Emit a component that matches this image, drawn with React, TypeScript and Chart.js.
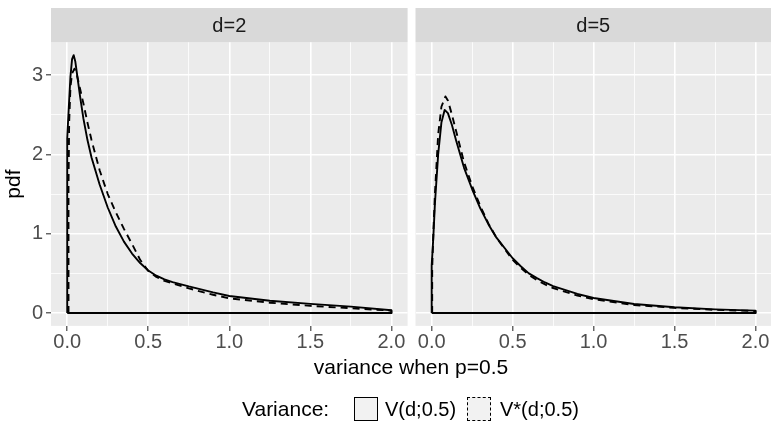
import React, { useEffect, useRef } from 'react';
import { Chart, registerables } from 'chart.js';

Chart.register(...registerables);

const FONT = '"Liberation Sans", Arial, Helvetica, sans-serif';

const panelLabels = ['d=2', 'd=5'];
const seriesNames = ['V(d;0.5)', 'V*(d;0.5)'];
const legendTitle = 'Variance:';
const xAxisTitle = 'variance when p=0.5';
const yAxisTitle = 'pdf';

const xTickValues = [0, 0.25, 0.5, 0.75, 1, 1.25, 1.5, 1.75, 2];
const xTickLabels = ['0.0', '', '0.5', '', '1.0', '', '1.5', '', '2.0'];
const yTickValues = [0, 0.5, 1, 1.5, 2, 2.5, 3];
const yTickLabels = ['0', '', '1', '', '2', '', '3'];

// d=2, V(d;0.5) (solid) — density outline (closed polygon)
const d2V_x = [0, 0, 0.01, 0.02, 0.03, 0.04, 0.05, 0.06, 0.08, 0.1, 0.125, 0.15, 0.2, 0.25, 0.3, 0.35, 0.4, 0.45, 0.5, 0.55, 0.6, 0.65, 0.75, 0.9, 1.0, 1.25, 1.5, 1.75, 2.0, 2.0, 0];
const d2V_y = [0, 2.2, 2.6, 2.98, 3.2, 3.25, 3.17, 3.02, 2.72, 2.45, 2.18, 1.96, 1.62, 1.33, 1.09, 0.9, 0.75, 0.63, 0.535, 0.47, 0.425, 0.39, 0.335, 0.26, 0.215, 0.155, 0.115, 0.08, 0.035, 0, 0];

// d=2, V*(d;0.5) (dashed)
const d2Vs_x = [0.008, 0.008, 0.012, 0.02, 0.03, 0.045, 0.06, 0.08, 0.1, 0.125, 0.15, 0.2, 0.25, 0.3, 0.35, 0.4, 0.45, 0.5, 0.55, 0.6, 0.75, 0.9, 1.0, 1.25, 1.5, 1.75, 2.0, 2.0, 0.008];
const d2Vs_y = [0, 1.6, 2.4, 2.85, 3.02, 3.08, 3.0, 2.82, 2.64, 2.4, 2.18, 1.8, 1.5, 1.27, 1.06, 0.87, 0.67, 0.53, 0.455, 0.405, 0.31, 0.23, 0.185, 0.13, 0.09, 0.06, 0.03, 0, 0];

// d=5, V(d;0.5) (solid)
const d5V_x = [0, 0, 0.01, 0.02, 0.04, 0.06, 0.08, 0.1, 0.125, 0.15, 0.2, 0.25, 0.3, 0.35, 0.4, 0.5, 0.55, 0.6, 0.65, 0.7, 0.75, 0.9, 1.0, 1.25, 1.5, 1.75, 2.0, 2.0, 0];
const d5V_y = [0, 0.6, 0.95, 1.38, 2.0, 2.4, 2.56, 2.52, 2.37, 2.18, 1.83, 1.56, 1.32, 1.12, 0.95, 0.69, 0.59, 0.5, 0.44, 0.385, 0.34, 0.24, 0.19, 0.113, 0.072, 0.046, 0.03, 0, 0];

// d=5, V*(d;0.5) (dashed)
const d5Vs_x = [0.003, 0.003, 0.01, 0.02, 0.04, 0.06, 0.085, 0.1, 0.125, 0.15, 0.2, 0.25, 0.3, 0.35, 0.4, 0.5, 0.55, 0.6, 0.65, 0.7, 0.75, 0.9, 1.0, 1.25, 1.5, 1.75, 2.0, 2.0, 0.003];
const d5Vs_y = [0, 0.55, 1.0, 1.5, 2.25, 2.6, 2.73, 2.68, 2.5, 2.3, 1.9, 1.6, 1.35, 1.13, 0.95, 0.67, 0.57, 0.48, 0.415, 0.36, 0.315, 0.22, 0.175, 0.1, 0.065, 0.04, 0.025, 0, 0];

const panelSeries = [
  [[d2V_x, d2V_y], [d2Vs_x, d2Vs_y]],
  [[d5V_x, d5V_y], [d5Vs_x, d5Vs_y]],
];

const stripPlugin = {
  id: 'facetStrip',
  beforeDraw(chart: any, _args: any, opts: any) {
    const { ctx, chartArea: a } = chart;
    ctx.save();
    ctx.fillStyle = '#EBEBEB';
    ctx.fillRect(a.left, a.top, a.right - a.left, a.bottom - a.top);
    ctx.fillStyle = '#D9D9D9';
    ctx.fillRect(a.left, 8, a.right - a.left, a.top - 8);
    ctx.fillStyle = '#1A1A1A';
    ctx.font = `20px ${FONT}`;
    ctx.textAlign = 'center';
    ctx.textBaseline = 'middle';
    ctx.fillText(opts.text, (a.left + a.right) / 2, (8 + a.top) / 2 + 1);
    ctx.restore();
  },
};

const isMajorX = (v: number) => xTickLabels[xTickValues.indexOf(v)] !== '';
const isMajorY = (v: number) => yTickLabels[yTickValues.indexOf(v)] !== '';

function panelConfig(idx: number): any {
  const left = idx === 0;
  const pts = (xs: number[], ys: number[]) => xs.map((x, i) => ({ x, y: ys[i] }));
  const [[sx, sy], [dx, dy]] = panelSeries[idx];
  return {
    type: 'line',
    data: {
      datasets: [
        {
          label: seriesNames[0],
          data: pts(sx, sy),
          borderColor: '#000000',
          borderWidth: 1.9,
          pointRadius: 0,
          fill: false,
          tension: 0,
          borderJoinStyle: 'round',
        },
        {
          label: seriesNames[1],
          data: pts(dx, dy),
          borderColor: '#000000',
          borderWidth: 1.9,
          borderDash: [7, 5],
          pointRadius: 0,
          fill: false,
          tension: 0,
          borderJoinStyle: 'round',
        },
      ],
    },
    options: {
      responsive: false,
      maintainAspectRatio: false,
      animation: false,
      events: [],
      layout: {
        padding: left
          ? { left: 0, right: 3.4, top: 42.3, bottom: 63.1 }
          : { left: 4.5, right: 0, top: 42.3, bottom: 63.1 },
      },
      plugins: {
        legend: { display: false },
        tooltip: { enabled: false },
        facetStrip: { text: panelLabels[idx] },
      },
      scales: {
        x: {
          type: 'linear',
          min: -0.1,
          max: left ? 2.1 : 2.0958,
          afterBuildTicks: (s: any) => {
            s.ticks = xTickValues.map((v) => ({ value: v }));
          },
          afterFit: (s: any) => {
            s.height = 40;
          },
          ticks: {
            autoSkip: false,
            maxRotation: 0,
            padding: 0,
            color: '#4D4D4D',
            font: { size: 20, family: FONT },
            callback: (_v: any, i: number) => xTickLabels[i],
          },
          grid: {
            color: '#FFFFFF',
            lineWidth: (c: any) => (c.tick && isMajorX(c.tick.value) ? 1.6 : 0.8),
            drawTicks: true,
            tickLength: 5,
            tickWidth: 1.1,
            tickColor: (c: any) => (c.tick && isMajorX(c.tick.value) ? '#333333' : 'rgba(0,0,0,0)'),
          },
          border: { display: false },
        },
        y: {
          type: 'linear',
          min: -0.1625,
          max: 3.4125,
          afterBuildTicks: (s: any) => {
            s.ticks = yTickValues.map((v) => ({ value: v }));
          },
          afterFit: (s: any) => {
            s.width = left ? 51 : 0;
          },
          ticks: {
            display: left,
            autoSkip: false,
            padding: 3,
            color: '#4D4D4D',
            font: { size: 20, family: FONT },
            callback: (_v: any, i: number) => yTickLabels[i],
          },
          grid: {
            color: '#FFFFFF',
            lineWidth: (c: any) => (c.tick && isMajorY(c.tick.value) ? 1.6 : 0.8),
            drawTicks: left,
            tickLength: 5,
            tickWidth: 1.1,
            tickColor: (c: any) => (c.tick && isMajorY(c.tick.value) ? '#333333' : 'rgba(0,0,0,0)'),
          },
          border: { display: false },
          title: {
            display: left,
            text: yAxisTitle,
            color: '#000000',
            font: { size: 21, family: FONT },
            padding: { top: 2, bottom: 0 },
          },
        },
      },
    },
    plugins: [stripPlugin],
  };
}

const textBase: React.CSSProperties = {
  position: 'absolute',
  whiteSpace: 'nowrap',
  fontFamily: FONT,
  color: '#000',
};

export default function App() {
  const refA = useRef<HTMLCanvasElement>(null);
  const refB = useRef<HTMLCanvasElement>(null);

  useEffect(() => {
    const a = new Chart(refA.current as HTMLCanvasElement, panelConfig(0));
    const b = new Chart(refB.current as HTMLCanvasElement, panelConfig(1));
    return () => {
      a.destroy();
      b.destroy();
    };
  }, []);

  return (
    <div
      style={{
        position: 'absolute',
        left: 0,
        top: 0,
        width: 771,
        height: 429,
        background: '#FFFFFF',
        overflow: 'hidden',
      }}
    >
      <canvas ref={refA} width={411} height={429} style={{ position: 'absolute', left: 0, top: 0 }} />
      <canvas ref={refB} width={360} height={429} style={{ position: 'absolute', left: 411, top: 0 }} />
      <div
        style={{
          ...textBase,
          left: 411,
          top: 355.7,
          fontSize: 21,
          lineHeight: '21px',
          transform: 'translateX(-50%)',
        }}
      >
        {xAxisTitle}
      </div>
      <div style={{ ...textBase, left: 242, top: 398, fontSize: 21, lineHeight: '21px' }}>{legendTitle}</div>
      <div
        style={{
          position: 'absolute',
          left: 354,
          top: 397,
          width: 24,
          height: 24,
          boxSizing: 'border-box',
          background: '#F2F2F2',
          border: '1.5px solid #000',
        }}
      />
      <div style={{ ...textBase, left: 385, top: 399, fontSize: 20, lineHeight: '20px' }}>{seriesNames[0]}</div>
      <div
        style={{
          position: 'absolute',
          left: 467,
          top: 397,
          width: 24,
          height: 24,
          boxSizing: 'border-box',
          background: '#F2F2F2',
          border: '1.5px dashed #000',
        }}
      />
      <div style={{ ...textBase, left: 500, top: 399, fontSize: 20, lineHeight: '20px' }}>{seriesNames[1]}</div>
    </div>
  );
}
